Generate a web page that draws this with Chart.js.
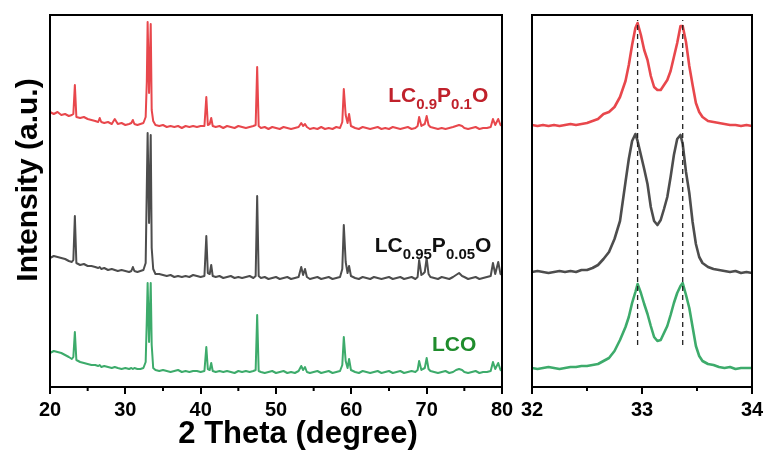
<!DOCTYPE html>
<html>
<head>
<meta charset="utf-8">
<script src="https://cdn.jsdelivr.net/npm/chart.js@4/dist/chart.umd.min.js"></script>
<style>
  html, body { margin: 0; padding: 0; background: #fff; }
  #wrap { position: relative; width: 768px; height: 453px; overflow: hidden; background: #fff; }
  canvas { position: absolute; top: 0; }
  #full { left: 0; }
  #zoom { left: 512px; }
</style>
</head>
<body>
<div id="wrap">
  <canvas id="full" width="520" height="453"></canvas>
  <canvas id="zoom" width="256" height="453"></canvas>
</div>
<script>
// ---- full-range patterns (2θ in degrees, stacked intensity in a.u.) ----
const twoTheta = [
  20.0, 20.5, 21.0, 21.5, 22.0, 22.5, 22.9, 23.1, 23.3, 23.5,
  24.0, 24.5, 25.0, 25.5, 26.0, 26.4, 26.6, 26.8, 27.2, 27.7,
  28.2, 28.6, 29.0, 29.5, 30.0, 30.5, 30.8, 31.0, 31.2, 31.6,
  32.0, 32.4, 32.7, 32.85, 32.96, 33.15, 33.37, 33.5, 33.7, 34.0,
  34.5, 35.0, 35.5, 36.0, 36.5, 37.0, 37.5, 38.0, 38.5, 39.0,
  39.5, 40.0, 40.5, 40.75, 40.95, 41.2, 41.4, 41.6, 42.0, 42.5,
  43.0, 43.5, 44.0, 44.5, 45.0, 45.5, 46.0, 46.5, 47.0, 47.3,
  47.5, 47.7, 48.0, 48.5, 49.0, 49.5, 50.0, 50.5, 51.0, 51.5,
  52.0, 52.5, 53.0, 53.35, 53.6, 53.85, 54.1, 54.5, 55.0, 55.5,
  56.0, 56.5, 57.0, 57.5, 58.0, 58.5, 58.8, 59.0, 59.25, 59.5,
  59.7, 59.95, 60.5, 61.0, 61.5, 62.0, 62.5, 63.0, 63.5, 64.0,
  64.5, 65.0, 65.5, 66.0, 66.5, 67.0, 67.5, 68.0, 68.5, 68.8,
  69.0, 69.3, 69.5, 69.75, 70.0, 70.25, 70.5, 71.0, 71.5, 72.0,
  72.5, 73.0, 73.5, 73.9, 74.3, 74.7, 75.0, 75.5, 76.0, 76.5,
  77.0, 77.5, 78.0, 78.5, 78.8, 79.1, 79.5, 79.8, 80.0
];

const lcp10 = [
  275, 273, 275, 272, 273, 271, 272, 273, 302, 270,
  269, 270, 268, 267, 266, 265, 269, 265, 264, 265,
  263, 268, 263, 264, 262, 263, 264, 267, 263, 262,
  263, 264, 270, 305, 365, 294, 363, 277, 266, 262,
  261, 262, 260, 261, 260, 261, 259, 261, 260, 261,
  260, 261, 261, 290, 262, 263, 269, 261, 260, 261,
  259, 261, 260, 259, 261, 260, 259, 260, 261, 262,
  320, 261, 259, 260, 258, 260, 259, 258, 260, 259,
  258, 259, 260, 264, 261, 263, 260, 258, 259, 258,
  260, 258, 259, 258, 260, 259, 265, 298, 272, 264,
  273, 261, 259, 258, 260, 259, 258, 259, 260, 258,
  259, 258, 260, 259, 258, 259, 260, 258, 259, 261,
  270, 261, 262, 263, 271, 262, 260, 259, 258, 259,
  258, 259, 260, 261, 262, 261, 259, 258, 259, 260,
  258, 259, 259, 260, 268, 262, 268, 262, 261
];

const lcp05 = [
  129, 131, 130, 129, 128, 126, 125, 127, 171, 124,
  122, 123, 121, 121, 120, 119, 120, 118, 119, 117,
  118, 117, 116, 117, 116, 115, 116, 120, 116, 115,
  116, 117, 124, 200, 254, 164, 252, 139, 118, 113,
  113, 112, 111, 112, 110, 111, 110, 111, 110, 112,
  111, 110, 111, 151, 114, 113, 122, 111, 110, 111,
  109, 110, 111, 109, 110, 109, 110, 111, 109, 111,
  191, 111, 109, 110, 108, 109, 110, 108, 109, 110,
  108, 109, 110, 120, 112, 118, 110, 108, 109, 110,
  108, 109, 110, 108, 109, 110, 118, 162, 125, 114,
  121, 111, 109, 108, 110, 109, 108, 110, 109, 108,
  109, 110, 108, 109, 110, 108, 109, 110, 108, 110,
  127, 112, 113, 115, 129, 113, 110, 109, 108, 110,
  109, 108, 110, 112, 114, 111, 110, 108, 109, 110,
  108, 109, 110, 111, 124, 113, 125, 113, 112
];

const lco = [
  34, 36, 35, 34, 32, 30, 28, 30, 55, 27,
  25, 24, 23, 22, 22, 21, 22, 20, 21, 20,
  19, 20, 19, 18, 19, 18, 19, 18, 19, 18,
  18, 19, 25, 67, 104, 45, 104, 42, 19, 17,
  16, 17, 16, 15, 16, 17, 15, 16, 15, 16,
  16, 15, 16, 40, 18, 17, 24, 16, 15, 16,
  15, 16, 15, 14, 16, 15, 16, 15, 16, 17,
  72, 16, 15, 14, 15, 16, 14, 15, 16, 14,
  15, 14, 16, 21, 17, 20, 15, 14, 15, 16,
  14, 15, 16, 14, 15, 16, 22, 50, 26, 19,
  28, 17, 15, 14, 16, 15, 14, 15, 16, 14,
  15, 16, 14, 15, 16, 14, 15, 16, 15, 17,
  26, 17, 18, 19, 29, 18, 16, 15, 14, 15,
  16, 14, 15, 17, 18, 17, 15, 14, 15, 16,
  14, 15, 15, 16, 25, 18, 24, 17, 16
];

// ---- magnified doublet region, 32–34° ----
const zoomTheta = [
  32.00, 32.05, 32.10, 32.15, 32.20, 32.25, 32.30, 32.35, 32.40, 32.45,
  32.50, 32.55, 32.60, 32.65, 32.70, 32.75, 32.80, 32.85, 32.88, 32.91,
  32.94, 32.96, 32.99, 33.02, 33.05, 33.08, 33.11, 33.14, 33.17, 33.20,
  33.23, 33.26, 33.29, 33.32, 33.35, 33.37, 33.40, 33.43, 33.46, 33.49,
  33.52, 33.55, 33.60, 33.65, 33.70, 33.75, 33.80, 33.85, 33.90, 33.95,
  34.00
];

const zoomLcp10 = [
  262, 261, 262, 261, 262, 261, 262, 263, 262, 263,
  264, 266, 268, 273, 275, 280, 290, 306, 322, 342,
  359, 364, 352, 337, 327, 311, 300, 297, 297, 302,
  307, 316, 330, 344, 361, 361, 345, 321, 302, 284,
  275, 270, 266, 265, 264, 263, 262, 262, 261, 262,
  261
];

const zoomLcp05 = [
  115, 116, 115, 114, 115, 116, 115, 116, 115, 117,
  117, 119, 122, 128, 135, 148, 166, 205, 228, 246,
  253, 246, 232, 218, 203, 180, 166, 162, 167, 178,
  190, 210, 232, 248, 252, 243, 215, 194, 165, 143,
  130, 124, 120, 118, 117, 116, 115, 116, 114, 115,
  114
];

const zoomLco = [
  19, 18, 19, 20, 19, 18, 19, 20, 20, 21,
  21, 22, 23, 26, 29, 36, 47, 60, 70, 84,
  95, 103, 94, 83, 73, 61, 50, 46, 47, 54,
  61, 72, 84, 94, 101, 104, 92, 79, 60, 41,
  31, 26, 23, 22, 20, 19, 20, 18, 19, 19,
  19
];

// reference peak positions marked in the magnified panel
const markerTheta = [32.96, 33.37];
const markerSpan = [42, 367];

// axis ticks
const fullMajorTicks = [20, 30, 40, 50, 60, 70, 80];
const fullMinorTicks = [25, 35, 45, 55, 65, 75];
const zoomMajorTicks = [32, 33, 34];
const zoomMinorTicks = [32.5, 33.5];

// sample names (formula pieces: text, subscript, text, ...)
const sampleNames = [
  ['LC', '0.9', 'P', '0.1', 'O'],
  ['LC', '0.95', 'P', '0.05', 'O'],
  ['LCO']
];
const nameTheta = [64.9, 63.1, 70.7];
const nameIntensity = [285, 135, 36];

const xTitle = '2 Theta (degree)';
const yTitle = 'Intensity (a.u.)';

const lineColors = ['#e8474c', '#4d4d4d', '#3dab6b'];
const nameColors = ['#c0212b', '#111111', '#1f8c2c'];

const FONT = '"Liberation Sans", Arial, Helvetica, sans-serif';
const Y_MAX = 372;

function pts(xs, ys) { return xs.map((x, i) => ({ x: x, y: ys[i] })); }

// black box around the plot area plus short minor ticks
function framePlugin(minorTicks) {
  return {
    id: 'frame',
    afterDraw(chart) {
      const { ctx, chartArea: a } = chart;
      const xs = chart.scales.x;
      ctx.save();
      ctx.strokeStyle = '#000';
      ctx.lineWidth = 2;
      ctx.strokeRect(a.left, a.top, a.right - a.left, a.bottom - a.top);
      ctx.beginPath();
      minorTicks.forEach(v => {
        const px = xs.getPixelForValue(v);
        ctx.moveTo(px, a.bottom);
        ctx.lineTo(px, a.bottom + 4);
      });
      ctx.stroke();
      ctx.restore();
    }
  };
}

function drawFormula(ctx, parts, x, y, color) {
  ctx.fillStyle = color;
  ctx.textAlign = 'left';
  ctx.textBaseline = 'alphabetic';
  let cx = x;
  parts.forEach((p, i) => {
    const sub = i % 2 === 1;
    ctx.font = sub ? 'bold 15px ' + FONT : 'bold 21px ' + FONT;
    ctx.fillText(p, cx, sub ? y + 7 : y);
    cx += ctx.measureText(p).width;
  });
}

const textPlugin = {
  id: 'texts',
  afterDraw(chart) {
    const { ctx } = chart;
    const xs = chart.scales.x, ys = chart.scales.y;
    ctx.save();
    sampleNames.forEach((parts, i) => {
      drawFormula(ctx, parts, xs.getPixelForValue(nameTheta[i]),
                  ys.getPixelForValue(nameIntensity[i]), nameColors[i]);
    });
    ctx.fillStyle = '#000';
    ctx.font = 'bold 31px ' + FONT;
    ctx.textAlign = 'center';
    ctx.textBaseline = 'alphabetic';
    ctx.fillText(xTitle, 298, 443);
    ctx.translate(37, 180);
    ctx.rotate(-Math.PI / 2);
    ctx.font = 'bold 30px ' + FONT;
    ctx.fillText(yTitle, 0, 0);
    ctx.restore();
  }
};

function xScale(min, max, step, majors) {
  return {
    type: 'linear',
    min: min, max: max,
    afterFit(s) { s.height = 66; },
    afterBuildTicks(s) { s.ticks = majors.map(v => ({ value: v })); },
    ticks: {
      stepSize: step,
      color: '#000',
      padding: 4,
      maxRotation: 0,
      autoSkip: false,
      font: { family: FONT, size: 20, weight: 'bold' }
    },
    grid: { display: true, drawOnChartArea: false, drawTicks: true, tickLength: 7, color: '#000', lineWidth: 2 },
    border: { display: true, color: '#000', width: 2 }
  };
}

const yScale = { type: 'linear', display: false, min: 0, max: Y_MAX };

function series(data, color, width) {
  return {
    data: data, borderColor: color, borderWidth: width,
    pointRadius: 0, tension: 0, fill: false,
    borderJoinStyle: 'round', borderCapStyle: 'round'
  };
}

const common = {
  responsive: false,
  devicePixelRatio: 1,
  animation: false,
  events: [],
  parsing: false,
  plugins: { legend: { display: false }, tooltip: { enabled: false } }
};

new Chart(document.getElementById('full'), {
  type: 'line',
  data: {
    datasets: [
      series(pts(twoTheta, lcp10), lineColors[0], 2),
      series(pts(twoTheta, lcp05), lineColors[1], 2),
      series(pts(twoTheta, lco), lineColors[2], 2)
    ]
  },
  options: Object.assign({}, common, {
    layout: { padding: { left: 50, right: 18, top: 15, bottom: 0 } },
    scales: { x: xScale(20, 80, 10, fullMajorTicks), y: yScale }
  }),
  plugins: [framePlugin(fullMinorTicks), textPlugin]
});

const markers = markerTheta.map(t => ({
  data: [{ x: t, y: markerSpan[0] }, { x: t, y: markerSpan[1] }],
  borderColor: '#222', borderWidth: 1.3, borderDash: [5, 4],
  pointRadius: 0, fill: false
}));

new Chart(document.getElementById('zoom'), {
  type: 'line',
  data: {
    datasets: markers.concat([
      series(pts(zoomTheta, zoomLcp10), lineColors[0], 2.6),
      series(pts(zoomTheta, zoomLcp05), lineColors[1], 2.6),
      series(pts(zoomTheta, zoomLco), lineColors[2], 2.6)
    ])
  },
  options: Object.assign({}, common, {
    layout: { padding: { left: 20, right: 16, top: 15, bottom: 0 } },
    scales: { x: xScale(32, 34, 1, zoomMajorTicks), y: yScale }
  }),
  plugins: [framePlugin(zoomMinorTicks)]
});
</script>
</body>
</html>
